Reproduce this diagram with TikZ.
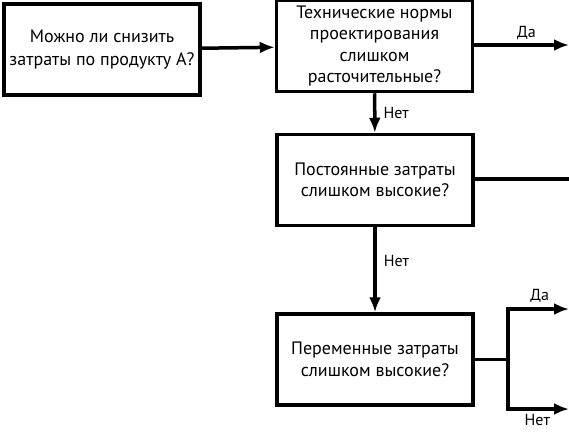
\documentclass[tikz,border=0pt]{standalone}
\usepackage{fontspec}
\setmainfont{PT Sans}
\usetikzlibrary{arrows.meta,positioning}

\begin{document}
\begin{tikzpicture}[x=1pt, y=-1pt, line width=3.5pt,
    block/.style={draw, minimum width=196pt, minimum height=91pt, align=center,
                  inner ysep=1pt, font=\fontsize{18}{21.5}\selectfont},
    tag/.style={font=\fontsize{16}{18}\selectfont, inner sep=1pt},
    arr/.style={-{Latex[length=15pt,width=12pt]}}]
    \useasboundingbox (0,0) rectangle (569,431);
    \node [block] (q1) at (102,49.5) {Можно ли снизить\\[2pt]затраты по продукту А?};
    \node [block] (q2) at (374.5,46) {Технические нормы\\проектирования\\слишком\\расточительные?};
    \node [block] (q3) at (375,180) {Постоянные затраты\\слишком высокие?};
    \node [block] (q4) at (375,359.5) {Переменные затраты\\слишком высокие?};
    \coordinate (e2) at (569,45);
    \coordinate (e3) at (569,179);
    \coordinate (fork) at (508,359.5);
    \coordinate (e4a) at (569,309);
    \coordinate (e4b) at (569,409);
    \draw[arr] (q1) -- (q2);
    \draw[arr] (q2.east |- e2) -- node[tag, above, pos=0.55, yshift=3pt] {Да} (e2);
    \draw[arr] (q2) -- node[tag, right, pos=0.5, xshift=6pt] {Нет} (q3);
    \draw (q3.east |- e3) -- (e3);
    \draw[arr] (q3) -- node[tag, right, pos=0.4, xshift=6pt] {Нет} (q4);
    \draw (q4.east |- fork) -- (fork);
    \draw[arr, line join=miter] (fork) |- node[tag, above, pos=0.76, yshift=4pt] {Да} (e4a);
    \draw[arr, line join=miter] (fork) |- node[tag, below, pos=0.74, yshift=-3pt] {Нет} (e4b);
\end{tikzpicture}
\end{document}
